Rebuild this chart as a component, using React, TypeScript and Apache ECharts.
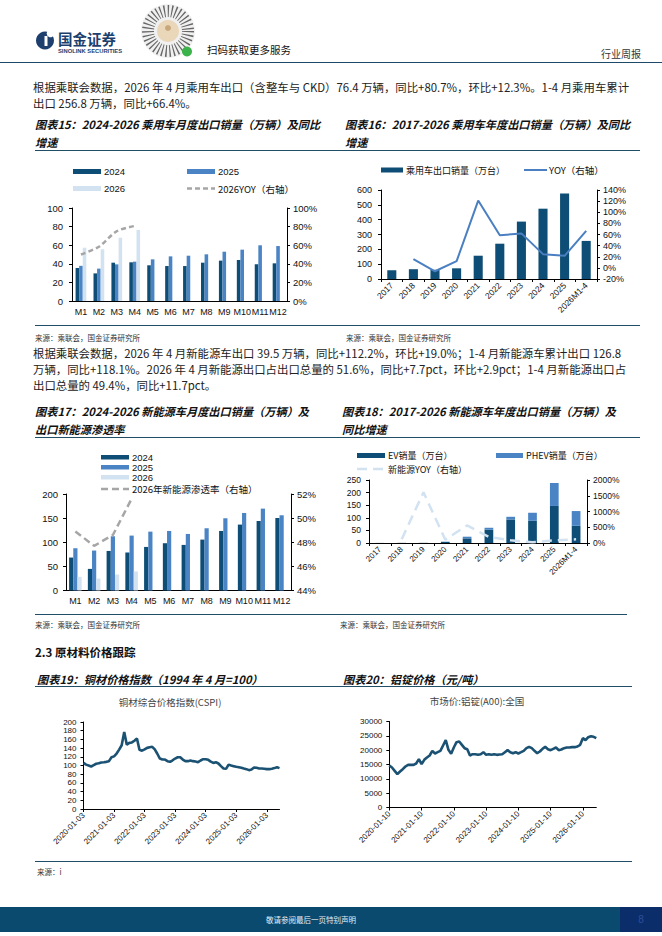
import React, { useEffect, useRef } from "react";
import * as echarts from "echarts";

// ---------- data ----------
const months = ["M1", "M2", "M3", "M4", "M5", "M6", "M7", "M8", "M9", "M10", "M11", "M12"];
const pc2024 = [35.5, 29.7, 41.2, 41.6, 38.4, 37.6, 37.6, 41.2, 43.4, 44.1, 39.4, 40.5];
const pc2025 = [37.8, 34.8, 39.4, 42.3, 44.8, 48.0, 48.7, 50.2, 53.0, 55.2, 59.9, 59.1];
const pc2026 = [57.3, 55.6, 68.1, 76.4];
const pcYoy2026 = [50, 58.4, 75, 80.7];

const years = ["2017", "2018", "2019", "2020", "2021", "2022", "2023", "2024", "2025", "2026M1-4"];
const pcAnnual = [59, 66, 62, 72, 157, 238, 387, 474, 576, 256.8];
const pcAnnualYoy = [null, 15.6, -6.1, 12, 121, 58.5, 62, 24.7, 21.7, 66.4];

const nev2024 = [68.3, 44.8, 82, 78.6, 90.3, 98, 94.5, 105.5, 123.4, 136.6, 144.1, 150.3];
const nev2025 = [87.6, 82.8, 112.4, 113.8, 122, 123.4, 117.2, 129, 149.7, 160.7, 169.7, 155.9];
const nev2026 = [28.3, 24.8, 33.1, 39.5];
const nevShare2026 = [48.9, 47.7, 48.6, 51.6];

const evAnnual = [0.3, 0.5, 0.6, 4, 18.4, 52.6, 93.4, 88, 147, 68.4];
const phevAnnual = [0, 0, 0, 1.3, 6.6, 7.9, 10.6, 32, 91, 58.4];
const nevYoy = [null, 120, 1610, 105, 558, 190, 84, 21, 84, 116];

const cspi = [
  106, 102, 100, 97.7, 100.8, 104, 105, 107, 107.6, 108.4, 110, 119,
  121, 127.5, 136.6, 146.6, 177, 148, 152, 153, 157, 162, 136, 134,
  137, 140.5, 142, 143, 137, 127, 116, 113.7, 113.7, 110, 108.4, 112,
  116, 119, 119, 113.7, 110, 110, 111.5, 110, 109, 107.6, 111.5, 114.5,
  114.5, 113, 109, 106, 107.6, 104.6, 98.5, 93, 92.4, 102, 100, 98.5,
  97, 96, 94.7, 93, 91.6, 89.3, 90.8, 95.4, 94.7, 93, 93, 92.4,
  91.6, 91.6, 92.4, 94, 96, 94,
];
const alu = [
  14650, 13950, 12790, 11630, 12560, 13370, 14300, 14880, 14880, 14880, 15350, 16860,
  15120, 16630, 17440, 18140, 19770, 18840, 19300, 19770, 21630, 23490, 20120, 18720,
  20930, 22790, 23020, 21860, 20700, 20350, 18140, 18600, 18600, 18370, 18600, 19300,
  18370, 18600, 18370, 18600, 18370, 18490, 18600, 19300, 20000, 19300, 18950, 19300,
  18840, 19300, 19770, 20700, 21160, 20700, 19770, 18950, 19530, 20470, 21160, 20350,
  20000, 20470, 20930, 20000, 20230, 20700, 20930, 20930, 21050, 21050, 21280, 21860,
  24190, 23490, 24530, 24880, 24650, 24190,
];

function monthlyDates(day: string, n: number): string[] {
  const out: string[] = [];
  for (let i = 0; i < n; i++) {
    const y = 2020 + Math.floor(i / 12);
    const m = (i % 12) + 1;
    out.push(`${y}-${m < 10 ? "0" + m : m}-${day}`);
  }
  return out;
}
const cspiDates = monthlyDates("03", cspi.length);
const aluDates = monthlyDates("10", alu.length);

// ---------- styles ----------
const C_DARK = "#0e4d75";
const C_MID = "#4a84c4";
const C_LIGHT = "#d3e2f1";
const C_GRAY = "#a6a6a6";
const C_LINE16 = "#4a7fc1";
const C_YOY18 = "#d3e2f1";
const C_PRICE = "#1b5273";
const C_RULE = "#1f4e66";
const CJK = "'Noto Sans CJK SC', sans-serif";
const SANS = "'Liberation Sans', Arial, sans-serif";

function txt(text: string, x: number, y: number, o: any = {}) {
  return {
    type: "text",
    x,
    y,
    silent: true,
    style: {
      text,
      fill: o.fill || "#222",
      fontSize: o.size || 11,
      fontFamily: o.family || CJK,
      fontWeight: o.weight || "normal",
      fontStyle: o.style || "normal",
      align: o.align || "left",
      verticalAlign: "middle",
    },
  };
}
function hline(x1: number, x2: number, y: number, color = C_RULE, w = 1, dash?: number[]) {
  const style: any = { stroke: color, lineWidth: w };
  if (dash) style.lineDash = dash;
  return {
    type: "line",
    silent: true,
    shape: { x1, y1: y, x2, y2: y },
    style,
  };
}
function box(x: number, y: number, w: number, h: number, fill: string) {
  return { type: "rect", silent: true, shape: { x, y, width: w, height: h }, style: { fill } };
}

const axisLine = { show: true, lineStyle: { color: "#000", width: 1 } };
const axisTick = { show: true, length: 3, lineStyle: { color: "#000" } };

function valAxis(gridIndex: number, min: number, max: number, interval: number, size: number, opts: any = {}) {
  return {
    type: "value",
    gridIndex,
    min,
    max,
    interval,
    position: opts.right ? "right" : "left",
    axisLine,
    axisTick,
    splitLine: { show: false },
    axisLabel: {
      fontSize: size,
      color: "#111",
      fontFamily: SANS,
      margin: opts.margin || 8,
      formatter: (v: number) => String(v) + (opts.pct ? "%" : ""),
    },
  };
}

export default function App() {
  const ref = useRef<HTMLDivElement>(null);
  useEffect(() => {
    if (!ref.current) return;
    const chart = echarts.init(ref.current, null, { renderer: "svg" });

    const titleFont = { size: 11.2, weight: "bold", style: "italic", fill: "#111" };
    const P = 11.4;
    const graphic: any[] = [
      // header
      { type: "circle", silent: true, shape: { cx: 45, cy: 40.5, r: 9 }, style: { fill: "#1d3f6e" } },
      { type: "circle", silent: true, shape: { cx: 50.5, cy: 33.5, r: 3.8 }, style: { fill: "#fff" } },
      { type: "rect", silent: true, shape: { x: 44.5, y: 36, width: 3, height: 10 }, style: { fill: "#fff" } },
      txt("国金证券", 58, 38.5, { size: 14.5, weight: "bold", fill: "#1d3f6e" }),
      txt("SINOLINK SECURITIES", 58, 51, { size: 5.8, weight: "bold", fill: "#1d3f6e", family: SANS }),
      { type: "circle", silent: true, shape: { cx: 168, cy: 31, r: 27 }, style: { fill: "#f0f0f0" } },
      {
        type: "circle",
        silent: true,
        shape: { cx: 168, cy: 31, r: 20 },
        style: { fill: "none", stroke: "#666", lineWidth: 12, lineDash: [1.2, 2.4] },
      },
      { type: "circle", silent: true, shape: { cx: 168, cy: 31, r: 11 }, style: { fill: "#ead6b8" } },
      { type: "circle", silent: true, shape: { cx: 168, cy: 28, r: 3 }, style: { fill: "#c9a77c" } },
      { type: "circle", silent: true, shape: { cx: 187, cy: 51.5, r: 5 }, style: { fill: "#3bb34a" } },
      txt("扫码获取更多服务", 207, 49, { size: 10.5, fill: "#111" }),
      txt("行业周报", 641, 53, { size: 10, fill: "#333", align: "right" }),
      hline(0, 662, 62.5, "#1d4a6a", 1.2),

      // paragraph 1
      txt(
        "根据乘联会数据，2026 年 4 月乘用车出口（含整车与 CKD）76.4 万辆，同比+80.7%，环比+12.3%。1-4 月乘用车累计",
        33, 87, { size: P }
      ),
      txt("出口 256.8 万辆，同比+66.4%。", 33, 102.5, { size: P }),

      // titles 15/16
      txt("图表15：2024-2026 乘用车月度出口销量（万辆）及同比", 35, 124, titleFont),
      txt("增速", 35, 142, titleFont),
      txt("图表16：2017-2026 乘用车年度出口销量（万辆）及同比", 345, 124, titleFont),
      txt("增速", 345, 142, titleFont),
      hline(35, 640, 150.5),

      // legend 15
      box(73, 169, 28, 5, C_DARK),
      txt("2024", 104, 171.5, { size: 9.5, family: SANS, fill: "#111" }),
      box(187, 169, 28, 5, C_MID),
      txt("2025", 218, 171.5, { size: 9.5, family: SANS, fill: "#111" }),
      box(73, 186, 28, 5, C_LIGHT),
      txt("2026", 104, 188.5, { size: 9.5, family: SANS, fill: "#111" }),
      hline(187, 215, 188.5, C_GRAY, 2.5, [5, 3]),
      txt("2026YOY（右轴）", 218, 188.5, { size: 9.5, fill: "#111" }),

      // legend 16
      box(381, 167.5, 22, 5, C_DARK),
      txt("乘用车出口销量（万台）", 406, 170, { size: 9, fill: "#111" }),
      hline(524, 547, 170, C_LINE16, 2),
      txt("YOY（右轴）", 549, 170, { size: 9.5, fill: "#111" }),

      // sources 15/16
      hline(35, 640, 325.5),
      txt("来源：乘联会，国金证券研究所", 35, 337.5, { size: 7.5, fill: "#333" }),
      txt("来源：乘联会，国金证券研究所", 346, 337.5, { size: 7.5, fill: "#333" }),

      // paragraph 2
      txt(
        "根据乘联会数据，2026 年 4 月新能源车出口 39.5 万辆，同比+112.2%，环比+19.0%；1-4 月新能源车累计出口 126.8",
        33, 353, { size: P }
      ),
      txt(
        "万辆，同比+118.1%。2026 年 4 月新能源出口占出口总量的 51.6%，同比+7.7pct，环比+2.9pct；1-4 月新能源出口占",
        33, 369, { size: P }
      ),
      txt("出口总量的 49.4%，同比+11.7pct。", 33, 385, { size: P }),

      // titles 17/18
      txt("图表17：2024-2026 新能源车月度出口销量（万辆）及", 35, 411, titleFont),
      txt("出口新能源渗透率", 35, 429, titleFont),
      txt("图表18：2017-2026 新能源车年度出口销量（万辆）及", 342, 411, titleFont),
      txt("同比增速", 342, 429, titleFont),
      hline(35, 640, 437.5),

      // legend 17
      box(101, 455, 28, 4.5, C_DARK),
      txt("2024", 132, 457, { size: 9.5, family: SANS, fill: "#111" }),
      box(101, 465, 28, 4.5, C_MID),
      txt("2025", 132, 467, { size: 9.5, family: SANS, fill: "#111" }),
      box(101, 475, 28, 4.5, C_LIGHT),
      txt("2026", 132, 477, { size: 9.5, family: SANS, fill: "#111" }),
      hline(101, 129, 489, C_GRAY, 2.5, [7, 4]),
      txt("2026年新能源渗透率（右轴）", 132, 489, { size: 9.5, fill: "#111" }),

      // legend 18
      box(357, 453, 28, 5, C_DARK),
      txt("EV销量（万台）", 388, 455.5, { size: 9, fill: "#111" }),
      box(496, 453, 27, 5, C_MID),
      txt("PHEV销量（万台）", 526, 455.5, { size: 9, fill: "#111" }),
      hline(357, 385, 469, C_YOY18, 2.5, [10, 6]),
      txt("新能源YOY（右轴）", 388, 469, { size: 9, fill: "#111" }),

      // sources 17/18
      hline(35, 627, 614.5),
      txt("来源：乘联会，国金证券研究所", 35, 624.5, { size: 7.5, fill: "#333" }),
      txt("来源：乘联会，国金证券研究所", 340, 624.5, { size: 7.5, fill: "#333" }),

      // section 2.3
      txt("2.3 原材料价格跟踪", 35, 652, { size: 11.5, weight: "bold", fill: "#111" }),
      txt("图表19：铜材价格指数（1994 年 4 月=100）", 37, 679, titleFont),
      txt("图表20：铝锭价格（元/吨）", 343, 679, titleFont),
      hline(35, 632, 686.5),
      txt("铜材综合价格指数(CSPI)", 170, 702, { size: 9.5, fill: "#444", align: "center" }),
      txt("市场价:铝锭(A00):全国", 477, 701, { size: 9.5, fill: "#444", align: "center" }),
      hline(35, 632, 861.5),
      txt("来源：i", 37, 871, { size: 7.5, fill: "#333" }),

      // footer
      box(0, 907, 620, 25, "#0b4a6f"),
      box(620, 907, 42, 25, "#0b2d69"),
      txt("敬请参阅最后一页特别声明", 311, 919.5, { size: 7.5, fill: "#e6edf3", align: "center" }),
      txt("8", 641, 919.5, { size: 10, fill: "#2c4f9e", align: "center", family: SANS }),
    ];

    const catLabel = { fontSize: 9, color: "#111", fontFamily: SANS, margin: 6, interval: 0 };
    const rotLabel = (size: number, interval: number) => ({
      fontSize: size,
      color: "#111",
      fontFamily: SANS,
      rotate: 45,
      margin: 5,
      interval,
      hideOverlap: false,
    });

    const option: any = {
      animation: false,
      textStyle: { fontFamily: SANS },
      graphic,
      grid: [
        { left: 72, top: 208, width: 215, height: 93, outerBoundsMode: "none" },
        { left: 381, top: 190, width: 216, height: 89, outerBoundsMode: "none" },
        { left: 66, top: 494, width: 225, height: 96.5, outerBoundsMode: "none" },
        { left: 369, top: 480, width: 218, height: 63, outerBoundsMode: "none" },
        { left: 83.5, top: 722, width: 196, height: 87, outerBoundsMode: "none" },
        { left: 389.3, top: 721.5, width: 207, height: 86, outerBoundsMode: "none" },
      ],
      xAxis: [
        { type: "category", gridIndex: 0, data: months, axisLine, axisTick: { show: false }, axisLabel: catLabel },
        { type: "category", gridIndex: 1, data: years, axisLine, axisTick, axisLabel: rotLabel(8.5, 0) },
        { type: "category", gridIndex: 2, data: months, axisLine, axisTick: { show: false }, axisLabel: catLabel },
        { type: "category", gridIndex: 3, data: years, axisLine, axisTick, axisLabel: rotLabel(8, 0) },
        {
          type: "category",
          gridIndex: 4,
          data: cspiDates,
          boundaryGap: false,
          axisLine,
          axisTick: { show: true, length: 3, interval: 11, lineStyle: { color: "#000" } },
          axisLabel: rotLabel(8, 11),
        },
        {
          type: "category",
          gridIndex: 5,
          data: aluDates,
          boundaryGap: false,
          axisLine,
          axisTick: { show: true, length: 3, interval: 11, lineStyle: { color: "#000" } },
          axisLabel: rotLabel(8, 11),
        },
      ],
      yAxis: [
        valAxis(0, 0, 100, 20, 9.5, { margin: 9 }),
        valAxis(0, 0, 100, 20, 9.5, { right: true, pct: true, margin: 6 }),
        valAxis(1, 0, 600, 100, 9, { margin: 9 }),
        valAxis(1, -20, 140, 20, 9, { right: true, pct: true, margin: 6 }),
        valAxis(2, 0, 200, 50, 9.5, { margin: 8 }),
        valAxis(2, 44, 52, 2, 9.5, { right: true, pct: true, margin: 6 }),
        valAxis(3, 0, 250, 50, 8.5, { margin: 8 }),
        valAxis(3, 0, 2000, 500, 8.5, { right: true, pct: true, margin: 6 }),
        valAxis(4, 0, 200, 20, 8, { margin: 7 }),
        valAxis(5, 0, 30000, 5000, 8, { margin: 7 }),
      ],
      series: [
        // chart 15
        { name: "2024", type: "bar", xAxisIndex: 0, yAxisIndex: 0, data: pc2024, itemStyle: { color: C_DARK }, barGap: "0%", barCategoryGap: "40%" },
        { name: "2025", type: "bar", xAxisIndex: 0, yAxisIndex: 0, data: pc2025, itemStyle: { color: C_MID }, barGap: "0%", barCategoryGap: "40%" },
        { name: "2026", type: "bar", xAxisIndex: 0, yAxisIndex: 0, data: pc2026, itemStyle: { color: C_LIGHT }, barGap: "0%", barCategoryGap: "40%" },
        {
          name: "2026YOY（右轴）",
          type: "line",
          xAxisIndex: 0,
          yAxisIndex: 1,
          data: pcYoy2026,
          smooth: 0.3,
          symbol: "none",
          lineStyle: { color: C_GRAY, width: 2.5, type: [5, 3] },
          itemStyle: { color: C_GRAY },
        },
        // chart 16
        { name: "乘用车出口销量（万台）", type: "bar", xAxisIndex: 1, yAxisIndex: 2, data: pcAnnual, itemStyle: { color: C_DARK }, barCategoryGap: "58%" },
        {
          name: "YOY（右轴）",
          type: "line",
          xAxisIndex: 1,
          yAxisIndex: 3,
          data: pcAnnualYoy,
          symbol: "none",
          lineStyle: { color: C_LINE16, width: 2 },
          itemStyle: { color: C_LINE16 },
        },
        // chart 17
        { name: "NEV 2024", type: "bar", xAxisIndex: 2, yAxisIndex: 4, data: nev2024, itemStyle: { color: C_DARK }, barGap: "0%", barCategoryGap: "33%" },
        { name: "NEV 2025", type: "bar", xAxisIndex: 2, yAxisIndex: 4, data: nev2025, itemStyle: { color: C_MID }, barGap: "0%", barCategoryGap: "33%" },
        { name: "NEV 2026", type: "bar", xAxisIndex: 2, yAxisIndex: 4, data: nev2026, itemStyle: { color: C_LIGHT }, barGap: "0%", barCategoryGap: "33%" },
        {
          name: "2026年新能源渗透率（右轴）",
          type: "line",
          xAxisIndex: 2,
          yAxisIndex: 5,
          data: nevShare2026,
          symbol: "none",
          lineStyle: { color: C_GRAY, width: 2.5, type: [7, 4] },
          itemStyle: { color: C_GRAY },
        },
        // chart 18
        { name: "EV销量（万台）", type: "bar", stack: "nev", xAxisIndex: 3, yAxisIndex: 6, data: evAnnual, itemStyle: { color: C_DARK }, barCategoryGap: "60%" },
        { name: "PHEV销量（万台）", type: "bar", stack: "nev", xAxisIndex: 3, yAxisIndex: 6, data: phevAnnual, itemStyle: { color: C_MID }, barCategoryGap: "60%" },
        {
          name: "新能源YOY（右轴）",
          type: "line",
          xAxisIndex: 3,
          yAxisIndex: 7,
          data: nevYoy,
          symbol: "none",
          lineStyle: { color: C_YOY18, width: 2.5, type: [10, 6] },
          itemStyle: { color: C_YOY18 },
        },
        // chart 19
        {
          name: "铜材综合价格指数(CSPI)",
          type: "line",
          xAxisIndex: 4,
          yAxisIndex: 8,
          data: cspi,
          symbol: "none",
          lineStyle: { color: C_PRICE, width: 2.6 },
          itemStyle: { color: C_PRICE },
        },
        // chart 20
        {
          name: "市场价:铝锭(A00):全国",
          type: "line",
          xAxisIndex: 5,
          yAxisIndex: 9,
          data: alu,
          symbol: "none",
          lineStyle: { color: C_PRICE, width: 2.6 },
          itemStyle: { color: C_PRICE },
        },
      ],
    };
    chart.setOption(option);
    return () => chart.dispose();
  }, []);

  return (
    <div
      ref={ref}
      style={{ position: "absolute", left: 0, top: 0, width: 662, height: 936, background: "#fff" }}
    />
  );
}
